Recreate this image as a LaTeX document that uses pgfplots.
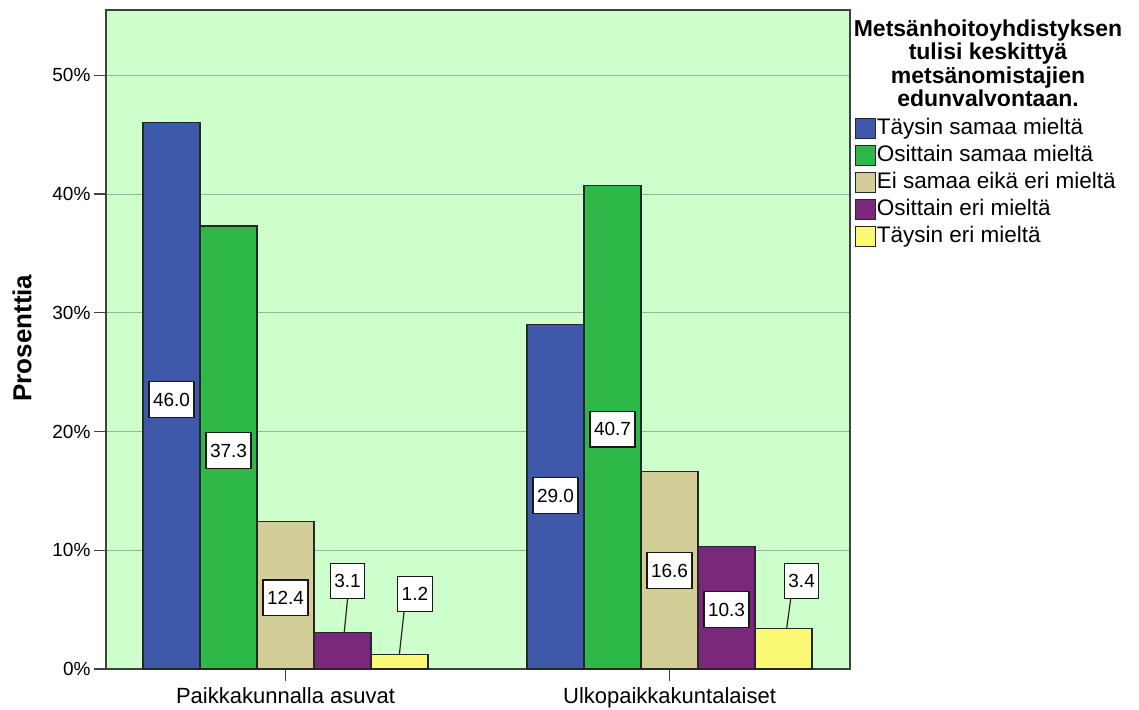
\documentclass[border=0pt]{standalone}
\usepackage{pgfplots}
\pgfplotsset{compat=1.18}
\usepackage{fontspec}
\setmainfont{Liberation Sans}
\definecolor{cblue}{RGB}{62,88,170}
\definecolor{cgreen}{RGB}{46,184,72}
\definecolor{ctan}{RGB}{211,206,151}
\definecolor{cpurple}{RGB}{122,40,122}
\definecolor{cyellow}{RGB}{251,248,115}
\definecolor{cbg}{RGB}{204,255,204}
\definecolor{cgrid}{RGB}{150,180,150}
\pgfplotsset{
  mybar/.style={ybar, bar width=0.1484, bar shift=0pt, draw=black!85, line width=1.2pt, fill=#1,
    legend image code/.code={\draw[fill=#1, draw=black!85, line width=1.2pt] (0pt,-10pt) rectangle (20pt,10pt);}},
  lbl/.style={forget plot, draw=none, mark=none, point meta=explicit symbolic, nodes near coords,
    nodes near coords align={anchor=center},
    every node near coord/.append style={anchor=center, fill=white, draw=black!90, line width=1.2pt,
      inner xsep=4pt, inner ysep=11pt, text height=13.6pt, text depth=0pt,
      font=\fontsize{19}{22}\selectfont}},
  leader/.style={forget plot, draw=black!85, line width=1.2pt, mark=none}
}
\begin{document}
\begin{tikzpicture}
\begin{axis}[
  scale only axis, width=744pt, height=659pt,
  xmin=-0.4674, xmax=1.470, ymin=0, ymax=55.5,
  axis background/.style={fill=cbg},
  xtick={0,1}, xticklabels={Paikkakunnalla asuvat, Ulkopaikkakuntalaiset},
  ytick={0,10,20,30,40,50}, yticklabels={0\%,10\%,20\%,30\%,40\%,50\%},
  tick pos=left, tick align=outside, major tick length=12pt,
  tick style={black!75, line width=1.4pt},
  xticklabel style={font=\fontsize{22}{26}\selectfont, yshift=-3pt},
  yticklabel style={font=\fontsize{19}{22}\selectfont},
  ymajorgrids, major grid style={cgrid, line width=1pt},
  axis line style={black!75, line width=1.3pt},
  ylabel={Prosenttia},
  ylabel style={font=\fontsize{26}{30}\selectfont\bfseries, at={(rel axis cs:-0.1129,0.502)}, anchor=center},
  legend style={at={(1.006,0.8392)}, anchor=north west, draw=none, fill=none,
    font=\fontsize{22.5}{27}\selectfont, inner sep=0pt, row sep=3pt,
    nodes={inner sep=1pt, text height=17pt, text depth=5pt},
    /tikz/every even column/.append style={column sep=3pt}},
  legend cell align=left,
]
\addplot[mybar=cblue] coordinates {(-0.2968,46.0) (0.7032,29.0)};
\addlegendentry{Täysin samaa mieltä}
\addplot[mybar=cgreen] coordinates {(-0.1484,37.3) (0.8516,40.7)};
\addlegendentry{Osittain samaa mieltä}
\addplot[mybar=ctan] coordinates {(0,12.4) (1,16.6)};
\addlegendentry{Ei samaa eikä eri mieltä}
\addplot[mybar=cpurple] coordinates {(0.1484,3.1) (1.1484,10.3)};
\addlegendentry{Osittain eri mieltä}
\addplot[mybar=cyellow] coordinates {(0.2968,1.2) (1.2968,3.4)};
\addlegendentry{Täysin eri mieltä}
% leader lines
\addplot[leader] coordinates {(0.153,3.1) (0.1635,6.5)};
\addplot[leader] coordinates {(0.2964,1.2) (0.311,5.5)};
\addplot[leader] coordinates {(1.305,3.4) (1.318,6.5)};
% value labels
\addplot[lbl] coordinates {
  (-0.2968,22.7) [46.0]
  (-0.1484,18.4) [37.3]
  (0,6.0) [12.4]
  (0.1615,7.41) [3.1]
  (0.337,6.32) [1.2]
  (0.7032,14.6) [29.0]
  (0.8516,20.2) [40.7]
  (1,8.3) [16.6]
  (1.1484,5.0) [10.3]
  (1.344,7.41) [3.4]
};
\end{axis}
\node[anchor=north, align=center, inner sep=0pt, font=\fontsize{23}{23.5}\selectfont\bfseries]
  at ([xshift=882pt,yshift=-9.5pt]current axis.north west)
  {Metsänhoitoyhdistyksen\\tulisi keskittyä\\metsänomistajien\\edunvalvontaan.};
\pgfresetboundingbox
\path (current axis.south west) ++(-106pt,-40pt) rectangle ++(1139pt,709pt);
\end{tikzpicture}
\end{document}
